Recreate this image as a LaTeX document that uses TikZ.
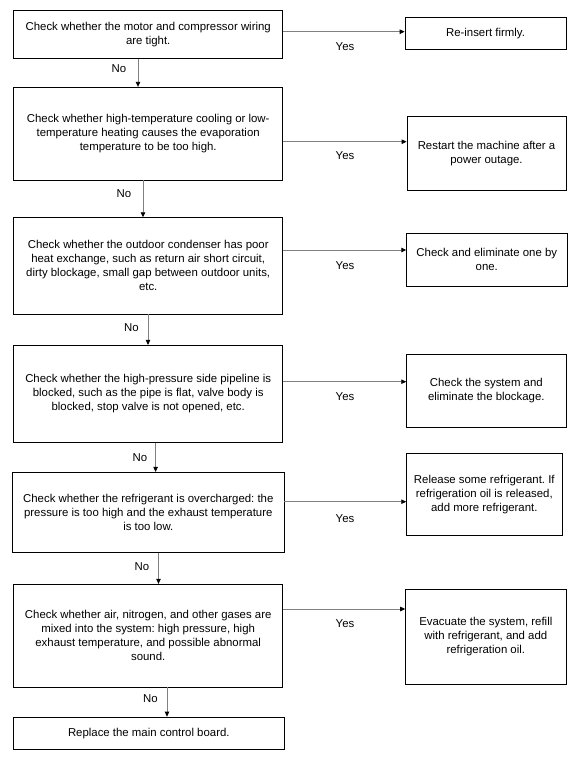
\documentclass[tikz,border=0pt]{standalone}
\usepackage{fontspec}
\setmainfont{Liberation Sans}
\usetikzlibrary{arrows.meta}
\frenchspacing
\begin{document}
\begin{tikzpicture}[x=1bp,y=-1bp,
  box/.style={draw=black,line width=0.8bp,inner sep=0pt,align=center,
    font=\fontsize{11.4bp}{14bp}\selectfont},
  conn/.style={draw=gray,line width=0.9bp,-{Triangle[length=5bp,width=4.5bp,color=black]}},
  lbl/.style={font=\fontsize{11.4bp}{14bp}\selectfont,inner sep=0pt}]
\useasboundingbox (0,0) rectangle (578,761);
% left column
\node[box,minimum width=268.9bp,minimum height=48.3bp] (L1) at (148.2,34.2)
  {Check whether the motor and compressor wiring\\are tight.};
\node[box,minimum width=268.9bp,minimum height=92.7bp] (L2) at (148.2,133.6)
  {Check whether high-temperature cooling or low-\\temperature heating causes the evaporation\\temperature to be too high.};
\node[box,minimum width=268.9bp,minimum height=96.3bp] (L3) at (148.2,265.8)
  {Check whether the outdoor condenser has poor\\heat exchange, such as return air short circuit,\\dirty blockage, small gap between outdoor units,\\etc.};
\node[box,minimum width=268.9bp,minimum height=97bp] (L4) at (148.2,393.8)
  {Check whether the high-pressure side pipeline is\\blocked, such as the pipe is flat, valve body is\\blocked, stop valve is not opened, etc.};
\node[box,minimum width=271.4bp,minimum height=80bp] (L5) at (148.3,512.3)
  {Check whether the refrigerant is overcharged: the\\pressure is too high and the exhaust temperature\\is too low.};
\node[box,minimum width=268.9bp,minimum height=102.7bp] (L6) at (148.2,635.6)
  {Check whether air, nitrogen, and other gases are\\mixed into the system: high pressure, high\\exhaust temperature, and possible abnormal\\sound.};
\node[box,minimum width=270.3bp,minimum height=32.3bp] (L7) at (148.8,733.2)
  {Replace the main control board.};
% right column
\node[box,minimum width=161bp,minimum height=32bp] (R1) at (485.5,33.3)
  {Re-insert firmly.};
\node[box,minimum width=159bp,minimum height=74bp] (R2) at (486.5,153.3)
  {Restart the machine after a\\power outage.};
\node[box,minimum width=160.3bp,minimum height=53bp] (R3) at (486.8,259.8)
  {Check and eliminate one by\\one.};
\node[box,minimum width=159.3bp,minimum height=73.4bp] (R4) at (486.3,391)
  {Check the system and\\eliminate the blockage.};
\node[box,minimum width=155.3bp,minimum height=82bp] (R5) at (484.3,494.3)
  {Release some refrigerant. If\\refrigeration oil is released,\\add more refrigerant.};
\node[box,minimum width=160.4bp,minimum height=95bp] (R6) at (485.8,636.8)
  {Evacuate the system, refill\\with refrigerant, and add\\refrigeration oil.};
% horizontal levels
\coordinate (h1) at (0,31.7);
\coordinate (h2) at (0,141.7);
\coordinate (h3) at (0,250);
\coordinate (h4) at (0,381.7);
\coordinate (h5) at (0,501.7);
\coordinate (h6) at (0,609);
% vertical positions
\coordinate (v1) at (138,0);
\coordinate (v2) at (143,0);
\coordinate (v3) at (148,0);
\coordinate (v4) at (155.6,0);
\coordinate (v5) at (158.5,0);
\coordinate (v6) at (167,0);
% Yes connectors
\draw[conn] (L1.east |- h1) -- (R1.west |- h1);
\draw[conn] (L2.east |- h2) -- (R2.west |- h2);
\draw[conn] (L3.east |- h3) -- (R3.west |- h3);
\draw[conn] (L4.east |- h4) -- (R4.west |- h4);
\draw[conn] (L5.east |- h5) -- (R5.west |- h5);
\draw[conn] (L6.east |- h6) -- (R6.west |- h6);
% No connectors
\draw[conn] (v1 |- L1.south) -- (v1 |- L2.north);
\draw[conn] (v2 |- L2.south) -- (v2 |- L3.north);
\draw[conn] (v3 |- L3.south) -- (v3 |- L4.north);
\draw[conn] (v4 |- L4.south) -- (v4 |- L5.north);
\draw[conn] (v5 |- L5.south) -- (v5 |- L6.north);
\draw[conn] (v6 |- L6.south) -- (v6 |- L7.north);
% labels
\node[lbl] (y1) at (345,47) {Yes};
\node[lbl] (y2) at (345,156) {Yes};
\node[lbl] (y3) at (345,265.3) {Yes};
\node[lbl] (y4) at (345,397) {Yes};
\node[lbl] (y5) at (345,518.3) {Yes};
\node[lbl] (y6) at (345,624) {Yes};
\node[lbl] (n1) at (119,69) {No};
\node[lbl] (n2) at (124,194) {No};
\node[lbl] (n3) at (131.5,327.7) {No};
\node[lbl] (n4) at (140,457.3) {No};
\node[lbl] (n5) at (142,566.3) {No};
\node[lbl] (n6) at (150.4,699) {No};
\end{tikzpicture}
\end{document}
